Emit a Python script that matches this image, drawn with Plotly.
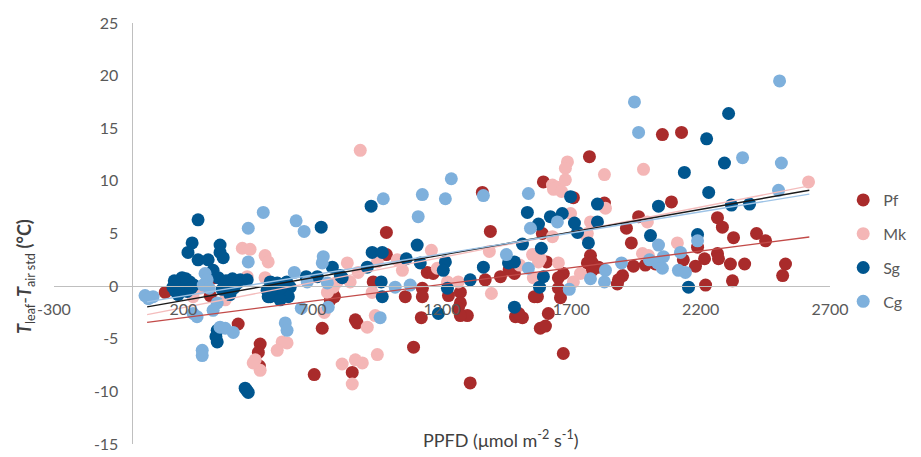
import plotly.graph_objects as go

# ---- data ----
pf = [(130,-0.6),(304,-0.9),(320,0.8),(412,-3.6),(497,-5.5),(490,-6.3),(494,-7.6),
      (706,-8.4),(737,-4.0),(776,-0.6),(768,-1.3),(784,-1.0),(853,-8.2),(865,-3.2),
      (872,-3.5),(934,0.4),(985,5.1),(985,3.0),(1058,-1.0),(1090,-5.8),(1120,-3.0),
      (1124,-0.2),(1124,-1.0),(1143,1.3),(1166,1.2),(1225,-0.9),(1271,-0.6),(1271,-1.6),
      (1263,-2.1),(1298,-2.8),(1271,-2.8),(1309,-9.2),(1356,8.9),(1387,5.2),(1367,0.6),
      (1426,0.9),(1480,1.2),(1460,1.6),(1484,-2.9),(1511,-3.0),(1497,-2.6),(1580,-4.0),
      (1600,-3.8),(1611,-2.6),(1569,-1.0),(1557,-1.0),(1592,9.9),(1588,5.0),(1604,2.3),
      (1669,1.2),(1650,0.8),(1650,-0.2),(1658,-1.1),(1669,-6.4),(1708,8.4),(1770,12.3),
      (1774,2.9),(1762,2.2),(1781,2.2),(1805,1.8),(1781,1.5),(1828,7.9),(1913,5.5),
      (1932,4.1),(1960,6.6),(1898,1.0),(1882,0.6),(1878,0.2),(1940,1.9),(1986,2.0),
      (2025,2.1),(2052,14.4),(2126,14.6),(2087,8.0),(2133,2.5),(2180,1.9),(2188,3.7),
      (2215,2.6),(2219,0.1),(2265,3.1),(2269,2.6),(2265,6.5),(2284,5.6),(2327,4.6),
      (2315,2.1),(2323,0.5),(2370,2.1),(2416,5.0),(2451,4.3),(2528,2.1),(2517,1.0)]

mk = [(190,-0.4),(265,-0.2),(238,-1.0),(362,-1.3),(428,3.6),(458,3.5),(516,2.9),
      (528,2.3),(447,0.9),(516,0.8),(478,-7.0),(497,-8.0),(470,-7.3),(582,-5.3),
      (563,-6.1),(601,-5.4),(780,-0.1),(795,0.4),(845,0.4),(834,2.2),(876,1.3),
      (950,2.3),(1027,2.5),(1047,1.5),(930,-0.6),(942,-2.8),(911,-3.9),(950,-6.5),
      (814,-7.4),(865,-7.0),(892,-7.3),(853,-9.3),(884,12.9),(757,-0.6),(745,-2.5),
      (1159,3.4),(1182,1.7),(1221,0.4),(1263,0.4),(1383,3.3),(1391,-0.7),(1553,0.8),
      (1573,2.3),(1580,2.6),(1627,9.6),(1646,9.4),(1685,11.8),(1677,11.2),(1677,10.1),
      (1631,9.2),(1662,9.0),(1697,6.9),(1650,2.2),(1735,1.2),(1708,0.4),(1758,4.8),
      (1762,5.0),(1627,4.7),(1774,6.1),(1828,10.6),(1832,7.4),(1979,11.1),(1994,6.1),
      (1975,3.1),(1998,2.9),(2110,4.1),(2617,9.9),(1550,3.0),(1500,2.0)]

sg = [(257,6.3),(234,4.1),(218,3.2),(257,2.5),(296,2.5),(342,3.9),(342,3.2),(354,2.7),
      (315,1.5),(420,0.6),(447,0.6),(408,0.3),(160,-0.1),(175,0.3),(190,0.5),(205,0.2),
      (215,-0.5),(180,-0.8),(200,-0.3),(225,0.4),(170,-0.5),(240,0.1),(195,0.8),(210,0.7),
      (185,-0.2),(230,-0.2),(165,0.5),(335,0.8),(365,0.5),(390,0.7),(350,-0.3),(380,-0.8),
      (410,0.3),(360,0.1),(395,-0.2),(331,-4.2),(331,-5.3),(326,-4.8),(439,-9.7),
      (451,-10.1),(445,-9.9),(544,0.3),(528,-1.0),(536,0.4),(563,0.3),(594,0.1),
      (613,-0.1),(524,-0.4),(555,-0.6),(586,-0.7),(606,-1.0),(536,-1.0),(574,-1.3),
      (600,0.4),(575,-0.2),(733,5.6),(926,7.6),(930,3.2),(969,3.2),(776,1.8),(807,1.0),
      (814,0.8),(911,1.8),(675,0.9),(718,0.9),(965,0.4),(969,-1.0),(1062,2.6),
      (1104,3.9),(1116,2.2),(1213,2.3),(1205,1.5),(1221,-0.2),(1186,-2.6),(1309,0.6),
      (1360,1.8),(1457,2.2),(1480,2.3),(1511,4.0),(1530,7.0),(1573,5.9),(1619,6.6),
      (1584,3.6),(1592,0.9),(1577,-0.1),(1480,-2.0),(1665,6.9),(1697,8.5),(1712,6.0),
      (1724,5.1),(1766,4.1),(1801,6.1),(1801,7.8),(2006,4.8),(2037,7.6),(2137,10.8),
      (2153,-0.1),(2188,4.9),(2223,14.0),(2231,8.9),(2292,11.7),(2308,16.4),(2319,7.7),
      (2389,7.8)]

cg = [(52,-0.9),(83,-1.0),(65,-1.2),(509,7.0),(451,5.5),(451,2.3),(284,1.2),(292,0.6),
      (277,0.1),(300,-0.2),(331,-1.6),(315,-2.3),(253,-2.9),(238,-2.6),(342,-3.9),
      (362,-4.0),(393,-4.4),(273,-6.1),(273,-6.6),(636,6.2),(667,5.2),(741,2.8),
      (737,2.2),(629,1.3),(679,0.4),(1019,-0.1),(1077,0.1),(656,-2.1),(594,-3.5),
      (601,-4.2),(760,-2.0),(961,-3.0),(973,8.3),(1236,10.2),(1124,8.7),(1213,8.3),
      (1360,8.6),(1108,6.6),(1534,8.8),(1542,5.5),(1449,3.0),(1534,1.7),(1646,6.1),
      (1692,-0.3),(1944,17.5),(1960,14.6),(2037,3.9),(2056,2.8),(2122,3.2),(1894,2.2),
      (2002,2.5),(2033,2.2),(2052,1.7),(2114,1.5),(2141,1.3),(1832,1.5),(1828,0.4),
      (1774,0.7),(2188,4.3),(2362,12.2),(2512,11.7),(2501,9.1),(2505,19.5),(757,0.3)]

series_names = ["Pf", "Mk", "Sg", "Cg"]
series_data = [pf, mk, sg, cg]
marker_colors = ["#A92B2B", "#F4B6B6", "#00568F", "#7EB0DC"]

# linear trendlines (intercept, slope)
trend_x = [60, 2620]
trend_intercepts = [-3.64, -3.0, -2.23, -1.74]
trend_slopes = [0.00317, 0.00478, 0.00433, 0.0040]
trend_colors = ["#C24A48", "#F4BDBD", "#1A1A1A", "#9DC3E6"]

x_ticks = [-300, 200, 700, 1200, 1700, 2200, 2700]
x_tick_text = ["-300", "200", "700", "1200", "1700", "2200", "2700"]
y_ticks = [-15, -10, -5, 0, 5, 10, 15, 20, 25]
y_tick_text = ["-15", "-10", "-5", "0", "5", "10", "15", "20", "25"]

FONT = "Lato"
GREY = "#595959"

fig = go.Figure()
for name, pts, col in zip(series_names, series_data, marker_colors):
    fig.add_trace(go.Scatter(
        x=[p[0] for p in pts], y=[p[1] for p in pts], mode="markers", name=name,
        legendgroup=name,
        marker=dict(color=col, size=13, line=dict(width=0)),
    ))

for b, m, col in zip(trend_intercepts, trend_slopes, trend_colors):
    fig.add_trace(go.Scatter(
        x=trend_x, y=[b + m * xv for xv in trend_x], mode="lines",
        line=dict(color=col, width=1.4), showlegend=False, hoverinfo="skip",
    ))

# the page body adds an 8 px margin, so the figure is 8 px smaller than the window
fig.update_layout(
    width=913, height=449,
    margin=dict(l=46, r=91, t=15, b=13, autoexpand=False),
    paper_bgcolor="white", plot_bgcolor="white",
    font=dict(family=FONT, size=15, color=GREY),
    showlegend=True,
    legend=dict(x=1.017, y=0.62, xanchor="left", yanchor="top",
                font=dict(size=16, color=GREY), tracegroupgap=10,
                bgcolor="rgba(0,0,0,0)", itemwidth=30),
    xaxis=dict(range=[-300, 2700], domain=[0, 1], showgrid=False, zeroline=False,
               showline=True, linecolor="#BFBFBF", linewidth=1,
               tickmode="array", tickvals=x_ticks, ticktext=x_tick_text, ticks="",
               anchor="free", position=15/40, ticklabelstandoff=9,
               tickfont=dict(size=16, color=GREY)),
    yaxis=dict(range=[-15, 25], domain=[0, 1], showgrid=False, zeroline=False,
               showline=True, linecolor="#BFBFBF", linewidth=1,
               tickmode="array", tickvals=y_ticks, ticktext=y_tick_text, ticks="",
               anchor="free", position=300/3000, ticklabelstandoff=10,
               tickfont=dict(size=16, color=GREY)),
)

fig.add_annotation(
    text="<b><i>T</i></b><sub>leaf</sub>-<b><i>T</i></b><sub>air std</sub> <b>(°C)</b>",
    xref="paper", yref="paper", x=(25-54)/775, y=(444-276)/421,
    showarrow=False, textangle=-90, font=dict(size=18, color="#404040"),
    xanchor="center", yanchor="middle")
fig.add_annotation(
    text="PPFD (μmol m<sup>-2</sup> s<sup>-1</sup>)",
    xref="paper", yref="paper", x=(500-54)/775, y=(444-439)/421,
    showarrow=False, font=dict(size=18, color="#404040"),
    xanchor="center", yanchor="middle")

fig.write_html("out.html")
